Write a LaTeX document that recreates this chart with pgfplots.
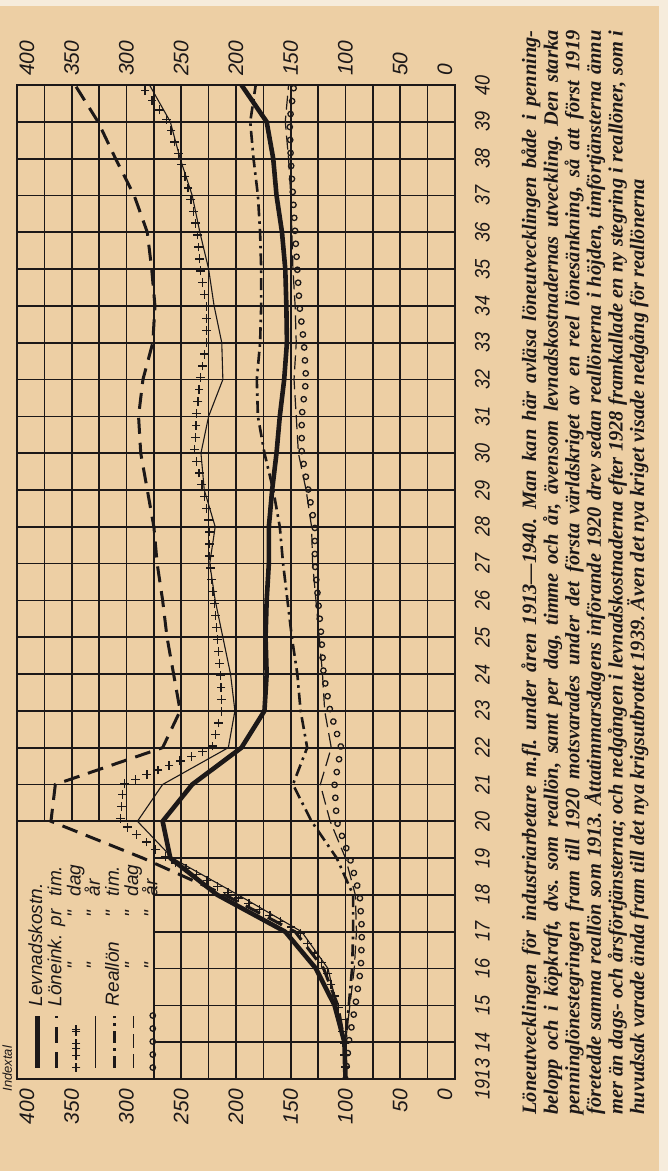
\documentclass[border=0pt]{standalone}
\usepackage{graphicx}
\usepackage{pgfplots}
\pgfplotsset{compat=1.18}
\usepackage{pgfplotstable}
\usepackage{fontspec}
\setmainfont{Liberation Serif}
\newfontfamily\lab{Liberation Sans}
\usetikzlibrary{decorations.markings}
\definecolor{paper}{RGB}{237,207,164}
\definecolor{edge}{RGB}{246,236,220}
\definecolor{ink}{RGB}{28,24,24}

\pgfplotstableread{
year cost tim dag ar rtim rdag rar
1913 100 100 100 100 100 100 100
1914 101 101 101 101 100 100 97
1915 110 107 107 108 97 96 91
1916 127 120 118 116 94 92 86
1917 155 146 142 140 93 90 85
1918 217 210 203 198 93 91 87
1919 260 285 263 258 108 100 96
1920 267 369 306 290 131 114 108
1921 240 365 303 267 148 123 110
1922 195 267 222 207 135 113 104
1923 174 251 213 201 141 119 114
1924 172 257 214 205 144 121 120
1925 173 263 217 212 149 124 122
1926 172 267 220 219 153 127 125
1927 170 272 224 224 157 130 128
1928 170 275 224 219 160 131 128
1929 167 281 230 229 166 136 134
1930 163 287 238 232 174 143 140
1931 160 289 236 225 180 145 140
1932 156 285 233 212 181 147 136
1933 153.5 276 227 213 178 145 138
1934 154 274 227 220 177 146 142
1935 155 277 233 225 177 148 144
1936 158 281 235 233 178 149 146
1937 163 293 242 240 180 150 148
1938 166 310 251 251 184 152 150
1939 172 326 262 260 187 155 151
1940 195 347 287 279 182 152 147
}\data

\newcommand\crossmark{\pgftransformresetnontranslations \draw[ink,line width=0.65pt] (-2.2pt,0pt)--(2.2pt,0pt) (0pt,-2.2pt)--(0pt,2.2pt);}
\pgfplotsset{
  crosses/.style={draw=none, postaction={decorate},
    decoration={markings, mark=between positions 0 and 1 step 6pt with {\crossmark}}},
  crossimg/.style={legend image code/.code={\path[##1, decoration={markings, mark=between positions 0 and 1 step 9.5pt with {\crossmark}}] (5pt,0pt) -- (25pt,0pt);}},
  circs/.style={draw=none, postaction={decorate},
    decoration={markings, mark=between positions 0 and 1 step 6.5pt with {\draw[ink,line width=0.65pt] (0pt,0pt) circle (1.35pt);}}},
  circimg/.style={legend image code/.code={\path[##1] (5pt,0pt) -- (31pt,0pt);}},
}

\newcommand\di{"}
\newcommand\ca[1]{\makebox[4.2em][c]{#1}}
\newcommand\cl[1]{\makebox[4.2em][l]{#1}}
\newcommand\cb[1]{\makebox[1.3em][c]{#1}}
\newcommand\lo{\smash{\raisebox{-8.6pt}{400}}}
\newcommand\hi{\smash{\raisebox{1.4pt}{0}}}
\newcommand\nar[1]{\scalebox{0.86}[1]{#1}}

\begin{document}
\begin{tikzpicture}[rotate=90,transform shape]
\fill[paper] (-46pt,-106.5pt) rectangle (539.5pt,227.5pt);
\fill[edge] (-46pt,-106.5pt) rectangle (539.5pt,-102pt);
\fill[edge] (536.5pt,-106.5pt) rectangle (539.5pt,227.5pt);
\begin{axis}[
  at={(0pt,0pt)}, anchor=south west,
  scale only axis, width=497pt, height=219pt,
  xmin=1913, xmax=1940, ymin=0, ymax=400,
  xtick={1913,1914,...,1940},
  xticklabels={\nar{1913},\nar{14},\nar{15},\nar{16},\nar{17},\nar{18},\nar{19},\nar{20},\nar{21},\nar{22},\nar{23},\nar{24},\nar{25},\nar{26},\nar{27},\nar{28},\nar{29},\nar{30},\nar{31},\nar{32},\nar{33},\nar{34},\nar{35},\nar{36},\nar{37},\nar{38},\nar{39},\nar{40}},
  ytick={0,50,...,400},
  yticklabels={\hi,50,100,150,200,250,300,350,\lo},
  minor ytick={25,75,...,375},
  grid=both,
  major grid style={ink, line width=0.85pt},
  minor grid style={ink, line width=0.85pt},
  axis line style={ink, line width=1.3pt},
  major tick length=0pt, minor tick length=0pt,
  ticklabel style={font=\lab\itshape\fontsize{10.5}{10.5}\selectfont, text=ink},
  xticklabel style={yshift=-6.5pt},
  yticklabel style={xshift=-1.5pt},
  legend image code/.code={\draw[#1] (5pt,0pt) -- (31pt,0pt);},
  legend cell align=left,
  legend style={at={(0.0,0.985)}, anchor=north west, draw=none, fill=none,
    font=\lab\itshape\fontsize{9.5}{9.5}\selectfont, text=ink,
    row sep=0pt,
    nodes={inner xsep=3pt, inner ysep=0.2pt, text height=6.9pt, text depth=2.3pt}},
]
\fill[paper] ([shift={(0.7pt,0pt)}]axis cs:1913,275) rectangle ([shift={(0pt,-0.7pt)}]axis cs:1920,400);
\draw[ink, line width=0.85pt] (axis cs:1913,275) -- (axis cs:1920,275) -- (axis cs:1920,400);

\addplot[ink, line width=2.3pt, line join=round] table[x=year,y=cost] {\data};
\addlegendentry{Levnadskostn.}

\addplot[ink, line width=1.5pt, dash pattern=on 8pt off 4.5pt] table[x=year,y=tim] {\data};
\addlegendentry{\cl{Löneink.}\makebox[1.3em][l]{pr} tim.}

\addplot[crosses, crossimg] table[x=year,y=dag] {\data};
\addlegendentry{\ca{\di}\cb{\di} dag}

\addplot[ink, line width=0.55pt] table[x=year,y=ar] {\data};
\addlegendentry{\ca{\di}\cb{\di} år}

\addplot[ink, line width=1.3pt, dash pattern=on 6pt off 2.5pt on 1.3pt off 2.5pt] table[x=year,y=rtim] {\data};
\addlegendentry{\cl{Reallön}\cb{\di} tim.}

\addplot[ink, line width=0.6pt, dash pattern=on 7pt off 3pt] table[x=year,y=rdag] {\data};
\addlegendentry{\ca{\di}\cb{\di} dag}

\addplot[circs, circimg] table[x=year,y=rar] {\data};
\addlegendentry{\ca{\di}\cb{\di} år}
\end{axis}
\begin{axis}[
  at={(0pt,0pt)}, anchor=south west,
  scale only axis, width=497pt, height=219pt,
  xmin=1913, xmax=1940, ymin=0, ymax=400,
  xtick=\empty,
  ytick={0,50,...,400},
  yticklabels={\hi,50,100,150,200,250,300,350,\lo},
  yticklabel pos=right,
  axis line style={draw=none},
  major tick length=0pt,
  ticklabel style={font=\lab\itshape\fontsize{10.5}{10.5}\selectfont, text=ink},
  yticklabel style={xshift=1pt},
]
\end{axis}
\node[anchor=base west, font=\lab\itshape\fontsize{6.5}{6.5}\selectfont, text=ink, inner sep=0pt] at (-6.5pt,221.5pt) {Indextal};
\node[anchor=north west, inner sep=0pt, text width=542pt, align=justify, text=ink,
  font=\bfseries\itshape\fontsize{10.2}{10.8}\selectfont] at (-18pt,-33pt) {\frenchspacing
Löneutvecklingen för industriarbetare m.fl. under åren 1913—1940. Man kan här avläsa löneutvecklingen både i penning-\linebreak
belopp och i köpkraft, dvs. som reallön, samt per dag, timme och år, ävensom levnadskostnadernas utveckling. Den starka\linebreak
penninglönestegringen fram till 1920 motsvarades under det första världskriget av en reel lönesänkning, så att först 1919\linebreak
företedde samma reallön som 1913. Åttatimmarsdagens införande 1920 drev sedan reallönerna i höjden, timförtjänsterna ännu\linebreak
mer än dags- och årsförtjänsterna; och nedgången i levnadskostnaderna efter 1928 framkallade en ny stegring i reallöner, som i\linebreak
huvudsak varade ända fram till det nya krigsutbrottet 1939. Även det nya kriget visade nedgång för reallönerna};
\pgfresetboundingbox
\path[use as bounding box] (-46pt,-106.5pt) rectangle (539.5pt,227.5pt);
\end{tikzpicture}
\end{document}
